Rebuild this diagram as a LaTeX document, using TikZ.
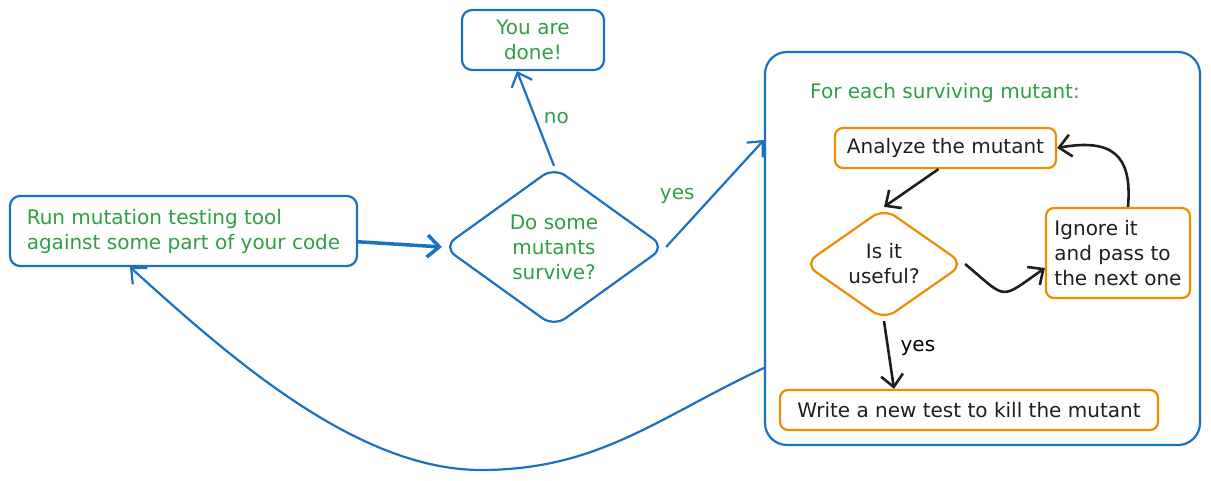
\documentclass[tikz,border=0pt]{standalone}
\usepackage{fontspec}
\setmainfont{DejaVu Sans}
\usetikzlibrary{shapes.geometric, positioning, arrows.meta}
\definecolor{exblue}{HTML}{1971C2}
\definecolor{exgreen}{HTML}{2F9E44}
\definecolor{exorange}{HTML}{F08C00}
\definecolor{exblack}{HTML}{1E1E1E}

\begin{document}
\begin{tikzpicture}[x=1pt, y=1pt, node distance=1.5cm, auto,
    font=\fontsize{20}{25}\selectfont,
    block/.style={rectangle, draw=exblue, line width=2.2pt, rounded corners=10pt, text=exgreen, align=center, inner sep=0pt},
    group/.style={rectangle, draw=exblue, line width=2.2pt, rounded corners=22pt},
    task/.style={rectangle, draw=exorange, line width=2.2pt, rounded corners=8pt, text=exblack, align=center, inner sep=0pt},
    decision/.style={diamond, draw=exblue, line width=2.2pt, rounded corners=14pt, text=exgreen, align=center, inner sep=0pt},
    choice/.style={diamond, draw=exorange, line width=2.2pt, rounded corners=14pt, text=exblack, align=center, inner sep=0pt},
    line/.style={draw=exblue, line width=2.2pt, -{Straight Barb[length=12pt, width=22pt]}},
    darrow/.style={draw=exblack, line width=2.6pt, -{Straight Barb[length=12pt, width=22pt]}}]

    \useasboundingbox (0,0) rectangle (1211,481);

    % outer loop
    \node [block, minimum width=142pt, minimum height=60pt] (done) at (533,441) {You are\\done!};
    \node [block, minimum width=347pt, minimum height=70pt, align=left] (run) at (183.5,250) {Run mutation testing tool\\against some part of your code};
    \node [decision, minimum width=222pt, minimum height=160pt] (survive) at (554,234) {Do some\\mutants\\survive?};

    % inner loop
    \node [group, minimum width=435pt, minimum height=393pt] (loop) at (982.5,232.5) {};
    \node [text=exgreen] (title) at (945,388) {For each surviving mutant:};
    \node [task, minimum width=221pt, minimum height=40pt] (analyze) at (945.5,333) {Analyze the mutant};
    \node [choice, minimum width=160pt, minimum height=112pt] (useful) at (884,217) {Is it\\useful?};
    \node [task, minimum width=144pt, minimum height=90pt, align=left] (ignore) at (1118,228) {Ignore it\\and pass to\\the next one};
    \node [task, minimum width=378pt, minimum height=40pt] (write) at (969,71) {Write a new test to kill the mutant};

    \path [line, line width=3.5pt] (run) -- (survive.west);
    \path [line] (survive.north) -- ([xshift=-16pt]done.south) node [midway, right=4pt, text=exgreen] {no};
    \path [line] (survive.east) -- ([yshift=108.5pt]loop.west) node [pos=0.35, above left=2pt, text=exgreen] {yes};
    \path [line] ([yshift=-119.5pt]loop.west) to[out=205, in=0] (481,11) to[out=180, in=-42, looseness=0.8] ([xshift=-53.5pt]run.south);

    \path [darrow] ([xshift=-7pt]analyze.south) -- (useful.north);
    \path [darrow] (useful.east) to[out=-40, in=215, looseness=1.8] ([yshift=-15pt]ignore.west) node [pos=0.5, below=6pt] {no};
    \path [darrow] ([xshift=10pt]ignore.north) to[out=85, in=10, looseness=1.5] (analyze.east);
    \path [darrow] (useful.south) -- ([xshift=-75pt]write.north) node [pos=0.4, right=8pt] {yes};
\end{tikzpicture}
\end{document}
